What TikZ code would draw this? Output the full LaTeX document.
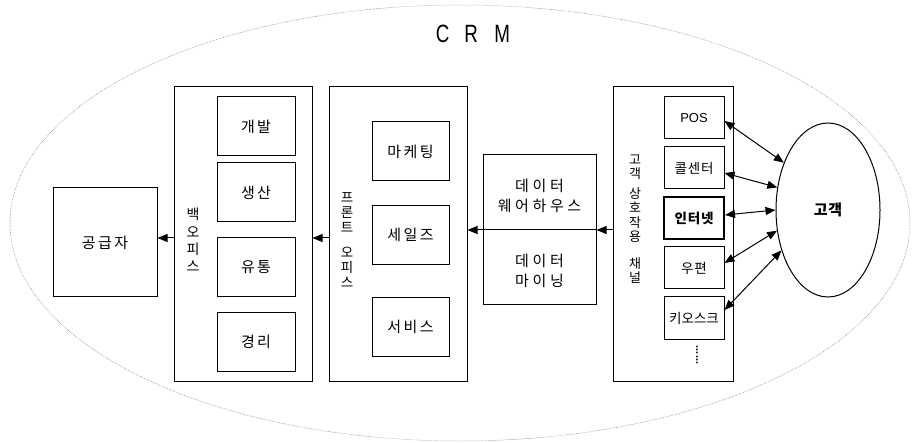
\documentclass[tikz,border=0pt]{standalone}
\usepackage{fontspec}
\setmainfont{Noto Sans CJK KR}
\newfontfamily\kr{Noto Sans CJK KR}
\newfontfamily\krsp{Noto Sans CJK KR}[LetterSpace=16]
\newfontfamily\krdata{Noto Sans CJK KR}[LetterSpace=24]
\newfontfamily\krsm{Noto Sans CJK KR}[LetterSpace=6]
\newfontfamily\krbold{Noto Sans CJK KR}[LetterSpace=6]
\newfontfamily\latinsans{Liberation Sans}
\usetikzlibrary{arrows.meta,shapes.geometric,calc}
\begin{document}
\begin{tikzpicture}[x=1pt,y=-1pt,
  box/.style={draw,line width=1pt,inner sep=0pt,anchor=center},
  bigtxt/.style={font=\krsp\fontsize{15}{17}\selectfont},
  chtxt/.style={font=\krsm\fontsize{13.5}{15}\selectfont},
  vtxt/.style={align=center,inner sep=0pt},
  arr/.style={line width=1pt,-{Triangle[length=10pt,width=8pt]}},
  dbl/.style={line width=1pt,{Triangle[length=10pt,width=8pt]}-{Triangle[length=10pt,width=8pt]}}
]
\useasboundingbox (0,0) rectangle (912,443);
% outer CRM ellipse
\node[ellipse,draw=gray,line width=0.5pt,dash pattern=on 0.6pt off 0.9pt,minimum width=900pt,minimum height=436pt,inner sep=0pt] (crm) at (460,223) {};
\node[font=\latinsans\fontsize{25}{28}\selectfont] (crmt) at (473,34) {\scalebox{0.75}[1]{C\hspace{20pt}R\hspace{22pt}M}};

% supplier
\node[box,minimum width=104pt,minimum height=109pt,bigtxt] (sup) at (105,242.5) {공급자};

% back office
\node[box,minimum width=138pt,minimum height=294pt] (bo) at (243,234) {};
\node[vtxt,font=\kr\fontsize{14}{17.3}\selectfont] (bot) at (193,240) {백\\오\\피\\스};
\node[box,minimum width=78pt,minimum height=59pt,bigtxt] (dev) at (256,126.5) {개발};
\node[box,minimum width=78pt,minimum height=59pt,bigtxt] (prod) at (256,192.5) {생산};
\node[box,minimum width=78pt,minimum height=59pt,bigtxt] (dist) at (256,267.5) {유통};
\node[box,minimum width=78pt,minimum height=59pt,bigtxt] (acct) at (256,342) {경리};

% front office
\node[box,minimum width=138pt,minimum height=294pt] (fo) at (398,234) {};
\node[vtxt,font=\kr\fontsize{13.5}{15}\selectfont] (fot) at (347,240) {프\\론\\트\\[10pt]오\\피\\스};
\node[box,minimum width=77pt,minimum height=59pt,bigtxt] (mkt) at (410.5,151.5) {마케팅};
\node[box,minimum width=77pt,minimum height=59pt,bigtxt] (sales) at (410.5,235) {세일즈};
\node[box,minimum width=77pt,minimum height=59pt,bigtxt] (svc) at (410.5,327) {서비스};

% data box
\node[box,minimum width=113pt,minimum height=150pt] (data) at (539.5,230) {};
\node[align=center,inner sep=0pt,font=\krdata\fontsize{15}{20}\selectfont] (dwt) at (539.5,195.5) {데이터\\웨어하우스};
\node[align=center,inner sep=0pt,font=\krdata\fontsize{15}{20}\selectfont] (dmt) at (539.5,270.5) {데이터\\마이닝};

% channel box
\node[box,minimum width=120pt,minimum height=294pt] (ch) at (673,234) {};
\node[vtxt,font=\kr\fontsize{13}{14.5}\selectfont] (cht) at (635,219) {고\\객\\[5pt]상\\호\\작\\용\\[12pt]채\\널};
\node[box,minimum width=60pt,minimum height=42pt,font=\latinsans\fontsize{13}{15}\selectfont] (pos) at (694,118) {POS};
\node[box,minimum width=60pt,minimum height=42pt,chtxt] (call) at (694,168) {콜센터};
\node[box,line width=2pt,minimum width=60pt,minimum height=42pt,font=\krbold\bfseries\fontsize{13.5}{15}\selectfont] (net) at (694,218) {인터넷};
\node[box,minimum width=60pt,minimum height=42pt,chtxt] (mail) at (694,268) {우편};
\node[box,minimum width=60pt,minimum height=42pt,font=\kr\fontsize{13.5}{15}\selectfont] (kiosk) at (694,318) {키오스크};
\node[rotate=90,inner sep=0pt,font=\latinsans\bfseries\fontsize{11}{13}\selectfont] (dots) at (697,355) {......};

% customer
\node[ellipse,draw,line width=1pt,minimum width=104pt,minimum height=174pt,inner sep=0pt,font=\krbold\bfseries\fontsize{15}{17}\selectfont] (cust) at (828,210) {고객};

% arrows
\draw[line width=1pt] (data.west) -- (data.east);
\draw[arr] (ch.west |- data.east) -- (data.east);
\draw[arr] (data.west) -- (data.west -| fo.east);
\coordinate (ay) at (0,238);
\draw[arr] (fo.west |- ay) -- (bo.east |- ay);
\draw[arr] (bo.west |- ay) -- (sup.east |- ay);

\draw[dbl] ([yshift=-3pt]pos.east) -- (cust.133);
\draw[dbl] ([yshift=-5pt]call.east) -- (cust.156);
\draw[dbl] ([yshift=3pt]net.east) -- (cust.180);
\draw[dbl] ([yshift=5pt]mail.east) -- (cust.202);
\draw[dbl] ([yshift=8pt]kiosk.east) -- (cust.221);
\end{tikzpicture}
\end{document}
